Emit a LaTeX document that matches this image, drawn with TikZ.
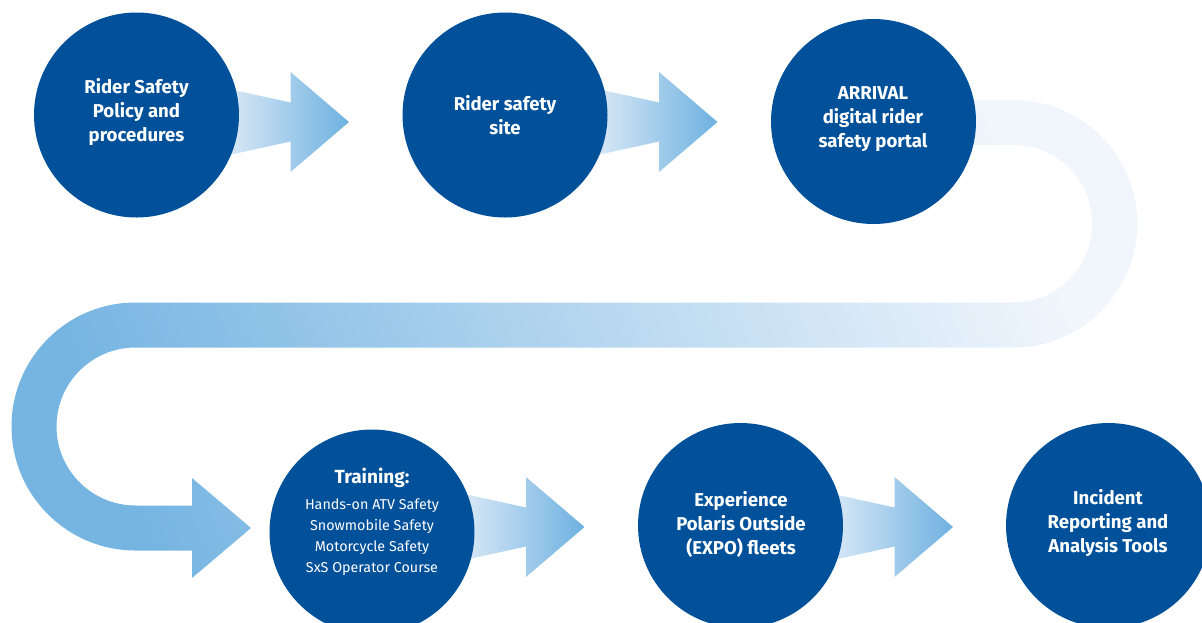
\documentclass[tikz,border=0pt]{standalone}
\usepackage{fontspec}
\setmainfont{Fira Sans}
\definecolor{polblue}{HTML}{00509A}
\definecolor{arrowlight}{HTML}{DCEAF7}
\definecolor{arrowdark}{HTML}{6EB1E0}
\definecolor{bandA}{HTML}{76B5E2}
\definecolor{bandB}{HTML}{F1F6FC}
\begin{document}
\begin{tikzpicture}[x=1pt,y=-1pt,
  stepcircle/.style={circle, fill=polblue, minimum size=205pt, inner sep=0pt},
  lbl/.style={text=white, align=center, font=\bfseries\fontsize{18.6}{24}\selectfont},
  lblbig/.style={text=white, align=center, font=\bfseries\fontsize{19}{24}\selectfont},
  sublbl/.style={text=white, align=center, font=\fontsize{14.3}{21}\selectfont},
  gradarrow/.pic={\shade[left color=arrowlight, right color=arrowdark]
    (88,-34) -- (154,-19.5) -- (154,-50) -- (212.5,0) -- (154,50) -- (154,19.5) -- (88,34) -- cycle;}]
\useasboundingbox (0,0) rectangle (1202,622);
\clip (0,0) rectangle (1202,622);
% circle positions
\path (136.5,115) coordinate (p1) (505,115) coordinate (p2) (873.5,121.5) coordinate (p3)
      (372,532) coordinate (p4) (740.5,525.5) coordinate (p5) (1108.5,525.5) coordinate (p6);
% serpentine band from circle 3 to circle 4
\shade[left color=bandA, right color=bandB, shading angle=112]
  (880,100) -- (1013.5,100) arc[start angle=-90, end angle=90, radius=123.75]
  -- (135.5,347.5) arc[start angle=-90, end angle=-270, radius=79]
  -- (192,505.5) -- (192,478) -- (251,528) -- (192,578) -- (192,550.5)
  -- (135.5,550.5) arc[start angle=90, end angle=270, radius=124]
  -- (1013.5,302.5) arc[start angle=90, end angle=-90, radius=78.75]
  -- (880,145) -- cycle;
% straight arrows
\path (p1) ++(0,7) pic {gradarrow};
\path (p2) ++(0,7) pic {gradarrow};
\path (p4) ++(0,-5) pic {gradarrow};
\path (p5) ++(0,1.5) pic {gradarrow};
% circles
\node[stepcircle] (c1) at (p1) {};
\node[stepcircle] (c2) at (p2) {};
\node[stepcircle] (c3) at (p3) {};
\node[stepcircle] (c4) at (p4) {};
\node[stepcircle] (c5) at (p5) {};
\node[stepcircle] (c6) at (p6) {};
% labels
\node[lbl] (t1) at (136.5,112) {Rider Safety\\Policy and\\procedures};
\node[lbl] (t2) at (505,115) {Rider safety\\site};
\node[lbl] (t3) at (873,119.5) {ARRIVAL\\digital rider\\safety portal};
\node[lblbig] (t4) at (372,478) {Training:};
\node[sublbl] (t4b) at (372,537.5) {Hands-on ATV Safety\\Snowmobile Safety\\Motorcycle Safety\\SxS Operator Course};
\node[lbl] (t5) at (741,524) {Experience\\Polaris Outside\\(EXPO) fleets};
\node[lbl] (t6) at (1108,523.5) {Incident\\Reporting and\\Analysis Tools};
\end{tikzpicture}
\end{document}
